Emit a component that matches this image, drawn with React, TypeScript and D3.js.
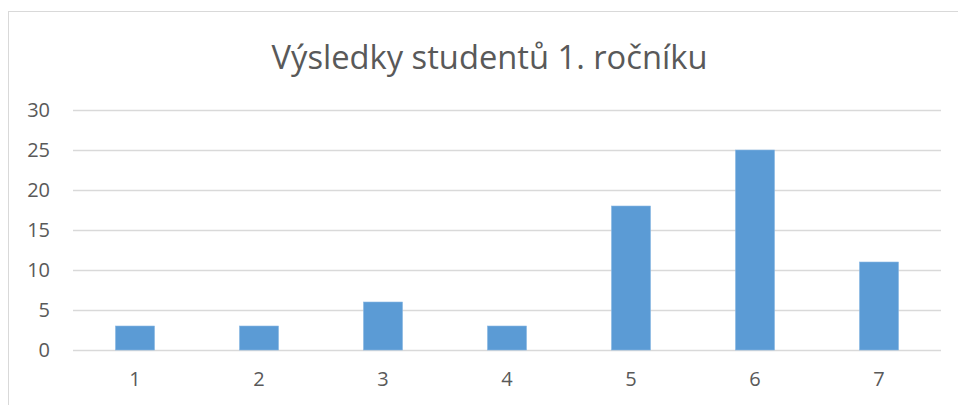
import React from "react";
import * as d3 from "d3";

const categories = ["1", "2", "3", "4", "5", "6", "7"];
const values = [3, 3, 6, 3, 18, 25, 11];
const yTicks = [0, 5, 10, 15, 20, 25, 30];
const title = "Výsledky studentů 1. ročníku";

const W = 958;
const H = 405;

export default function App() {
  const x = d3
    .scaleBand<string>()
    .domain(categories)
    .range([73, 941])
    .paddingInner(0.685)
    .paddingOuter(0.3425);
  const y = d3.scaleLinear().domain([0, 30]).range([350, 110]);
  const font = "'Open Sans', 'Noto Sans', sans-serif";
  return (
    <svg
      width={W}
      height={H}
      style={{ position: "absolute", left: 0, top: 0, background: "#fff" }}
      fontFamily={font}
    >
      <rect x={8.5} y={11.5} width={980} height={420} fill="#fff" stroke="#d9d9d9" strokeWidth={1} />
      <text x={489.5} y={69} textAnchor="middle" fontSize={32.7} fill="#595959">
        {title}
      </text>
      {yTicks.map((t) => (
        <g key={t}>
          <line x1={73} x2={941} y1={Math.round(y(t)) + 0.5} y2={Math.round(y(t)) + 0.5} stroke="#d9d9d9" strokeWidth={1.3} />
          <text x={50} y={y(t)} dy="0.36em" textAnchor="end" fontSize={20} fill="#595959">
            {t}
          </text>
        </g>
      ))}
      {categories.map((c, i) => (
        <g key={c}>
          <rect
            x={x(c)!}
            y={y(values[i])}
            width={x.bandwidth()}
            height={y(0) - y(values[i])}
            fill="#5b9bd5"
            stroke="#8ab8e3"
            strokeWidth={0.6}
          />
          <text x={x(c)! + x.bandwidth() / 2} y={386} textAnchor="middle" fontSize={20} fill="#595959">
            {c}
          </text>
        </g>
      ))}
    </svg>
  );
}
